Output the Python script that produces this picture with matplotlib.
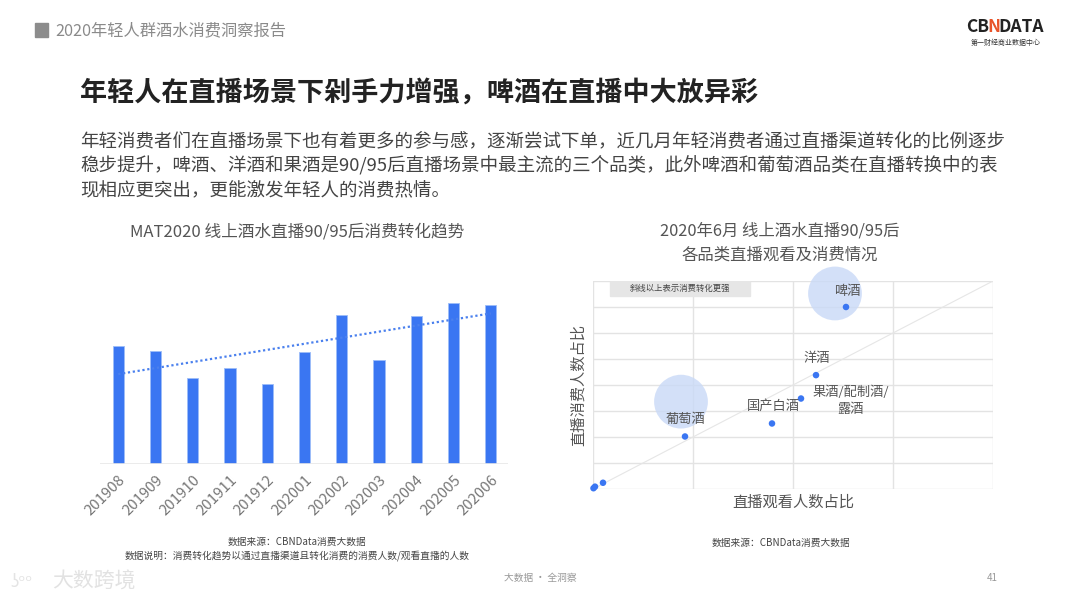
import numpy as np
import matplotlib
matplotlib.use('Agg')
import matplotlib.pyplot as plt
from matplotlib.patches import Rectangle

plt.rcParams['font.family'] = ['Noto Sans CJK SC', 'DejaVu Sans']

# Left chart: monthly conversion trend
months = ['201908', '201909', '201910', '201911', '201912', '202001',
          '202002', '202003', '202004', '202005', '202006']
conversion = [11.8, 11.3, 8.6, 9.6, 8.0, 11.2, 14.9, 10.4, 14.8, 16.1, 15.9]

# Right chart: watch share vs purchase share per category
categories = ['啤酒', '洋酒', '果酒/配制酒/\n露酒', '国产白酒', '葡萄酒', '其他1', '其他2', '其他3']
watch_share = [25.3, 22.3, 20.8, 17.9, 9.2, 0.05, 0.2, 1.0]
buy_share = [35.0, 21.9, 17.4, 12.6, 10.1, 0.15, 0.45, 1.2]
show_label = [True, True, True, True, True, False, False, False]
label_x = [25.4, 22.4, 25.8, 18.0, 9.3]
label_y = [37.9, 25.1, 17.0, 16.0, 13.4]
highlight_x = [24.2, 8.8]
highlight_y = [37.6, 16.8]

BLUE = '#3a76f2'
GRAY_TXT = '#555555'

fig = plt.figure(figsize=(10.8, 6.03), dpi=100)
fig.patch.set_facecolor('white')

# Header
fig.patches.append(Rectangle((35 / 1080, 1 - 37 / 603), 13 / 1080, 14 / 603,
                             transform=fig.transFigure, color='#8c8c8c'))
fig.text(55 / 1080, 1 - 31 / 603, '2020年轻人群酒水消费洞察报告', fontsize=11.7,
         color='#8a8a8a', va='center')
fig.text(966 / 1080, 1 - 27 / 603, 'CB', fontsize=12.5, fontweight='bold',
         color='#222222', va='center')
fig.text(987 / 1080, 1 - 27 / 603, 'N', fontsize=12.5, fontweight='bold',
         color='#e8542a', va='center')
fig.text(998 / 1080, 1 - 27 / 603, 'DATA', fontsize=12.5, fontweight='bold',
         color='#222222', va='center')
fig.text(1006 / 1080, 1 - 43 / 603, '第一财经商业数据中心', fontsize=5,
         color='#333333', va='center', ha='center')

fig.text(80 / 1080, 1 - 93 / 603, '年轻人在直播场景下剁手力增强，啤酒在直播中大放异彩',
         fontsize=19.5, fontweight='bold', color='#222222', va='center')

para = ['年轻消费者们在直播场景下也有着更多的参与感，逐渐尝试下单，近几月年轻消费者通过直播渠道转化的比例逐步',
        '稳步提升，啤酒、洋酒和果酒是90/95后直播场景中最主流的三个品类，此外啤酒和葡萄酒品类在直播转换中的表',
        '现相应更突出，更能激发年轻人的消费热情。']
for i, line in enumerate(para):
    fig.text(80 / 1080, 1 - (141 + 25 * i) / 603, line, fontsize=13.3,
             color='#444444', va='center')

# Left bar chart
ax1 = fig.add_axes([100 / 1080, 138.7 / 603, 408 / 1080, 174.3 / 603])
x = np.arange(len(months))
ax1.bar(x, conversion, width=0.3, color=BLUE, edgecolor='#9dbdf8', linewidth=0.6)
k, b = np.polyfit(x, conversion, 1)
ax1.plot(x, k * x + b, linestyle=(0, (1, 1.2)), color='#4a80ee', linewidth=1.6)
ax1.set_xlim(-0.49, 10.46)
ax1.set_ylim(0, 17.43)
ax1.axhline(0, color='#e8e8e8', linewidth=1.2)
for s in ax1.spines.values():
    s.set_visible(False)
ax1.set_yticks([])
ax1.set_xticks(x)
ax1.set_xticklabels(months, rotation=45, ha='right', rotation_mode='anchor',
                    fontsize=10.8, color='#777777')
ax1.tick_params(axis='x', length=0, pad=6)
fig.text(297 / 1080, 1 - 232 / 603, 'MAT2020 线上酒水直播90/95后消费转化趋势',
         fontsize=12, color=GRAY_TXT, ha='center', va='center')
fig.text(297 / 1080, 1 - 542 / 603, '数据来源：CBNData消费大数据', fontsize=7,
         color='#444444', ha='center', va='center')
fig.text(297 / 1080, 1 - 556 / 603,
         '数据说明：消费转化趋势以通过直播渠道且转化消费的消费人数/观看直播的人数',
         fontsize=7, color='#444444', ha='center', va='center')

# Right scatter chart
ax2 = fig.add_axes([593 / 1080, 114 / 603, 400 / 1080, 208 / 603])
ax2.set_xlim(0, 40)
ax2.set_ylim(0, 40)
ax2.set_xticks([0, 10, 20, 30, 40])
ax2.set_yticks(np.arange(0, 41, 5))
ax2.grid(True, color='#e3e3e3', linewidth=1)
ax2.set_axisbelow(True)
ax2.tick_params(length=0, labelbottom=False, labelleft=False)
for s in ax2.spines.values():
    s.set_visible(False)
ax2.plot([0, 40], [0, 40], color='#e6e6e6', linewidth=0.8, zorder=1)
ax2.scatter(highlight_x, highlight_y, s=1500, color='#c9d9f7', alpha=0.8,
            edgecolors='none', zorder=2, clip_on=False)
ax2.scatter(watch_share, buy_share, s=22, color=BLUE, edgecolors='none',
            zorder=4, clip_on=False)
for i, name in enumerate(categories):
    if show_label[i]:
        ax2.text(label_x[i], label_y[i], name, fontsize=9.5, color=GRAY_TXT,
                 ha='center', va='center', zorder=5, linespacing=1.4)
ax2.add_patch(Rectangle((1.7, 37.1), 14.0, 2.9, color='#e6e6e6', zorder=3))
ax2.text(8.7, 38.55, '斜线以上表示消费转化更强', fontsize=6, color='#444444',
         ha='center', va='center', zorder=4)

fig.text(780 / 1080, 1 - 231 / 603, '2020年6月 线上酒水直播90/95后', fontsize=11.8,
         color=GRAY_TXT, ha='center', va='center')
fig.text(780 / 1080, 1 - 255 / 603, '各品类直播观看及消费情况', fontsize=11.8,
         color=GRAY_TXT, ha='center', va='center')
fig.text(793 / 1080, 1 - 502 / 603, '直播观看人数占比', fontsize=11,
         color=GRAY_TXT, ha='center', va='center')
fig.text(578 / 1080, 1 - 385 / 603, '直播消费人数占比', fontsize=11,
         color=GRAY_TXT, ha='center', va='center', rotation=90)
fig.text(781 / 1080, 1 - 543 / 603, '数据来源：CBNData消费大数据', fontsize=7,
         color='#444444', ha='center', va='center')

# Footer
fig.text(540 / 1080, 1 - 578 / 603, '大数据 · 全洞察', fontsize=7,
         color='#999999', ha='center', va='center')
fig.text(992 / 1080, 1 - 578 / 603, '41', fontsize=7, color='#999999',
         ha='center', va='center')
fig.text(10 / 1080, 1 - 582 / 603, 'ʖᵒᵒ', fontsize=12, color='#e4e4e4',
         va='center', ha='left', family=['DejaVu Sans'])
fig.text(52 / 1080, 1 - 582 / 603, '大数跨境', fontsize=15, color='#e2e2e2',
         va='center', ha='left')

fig.savefig('out.png', dpi=100, facecolor='white')
